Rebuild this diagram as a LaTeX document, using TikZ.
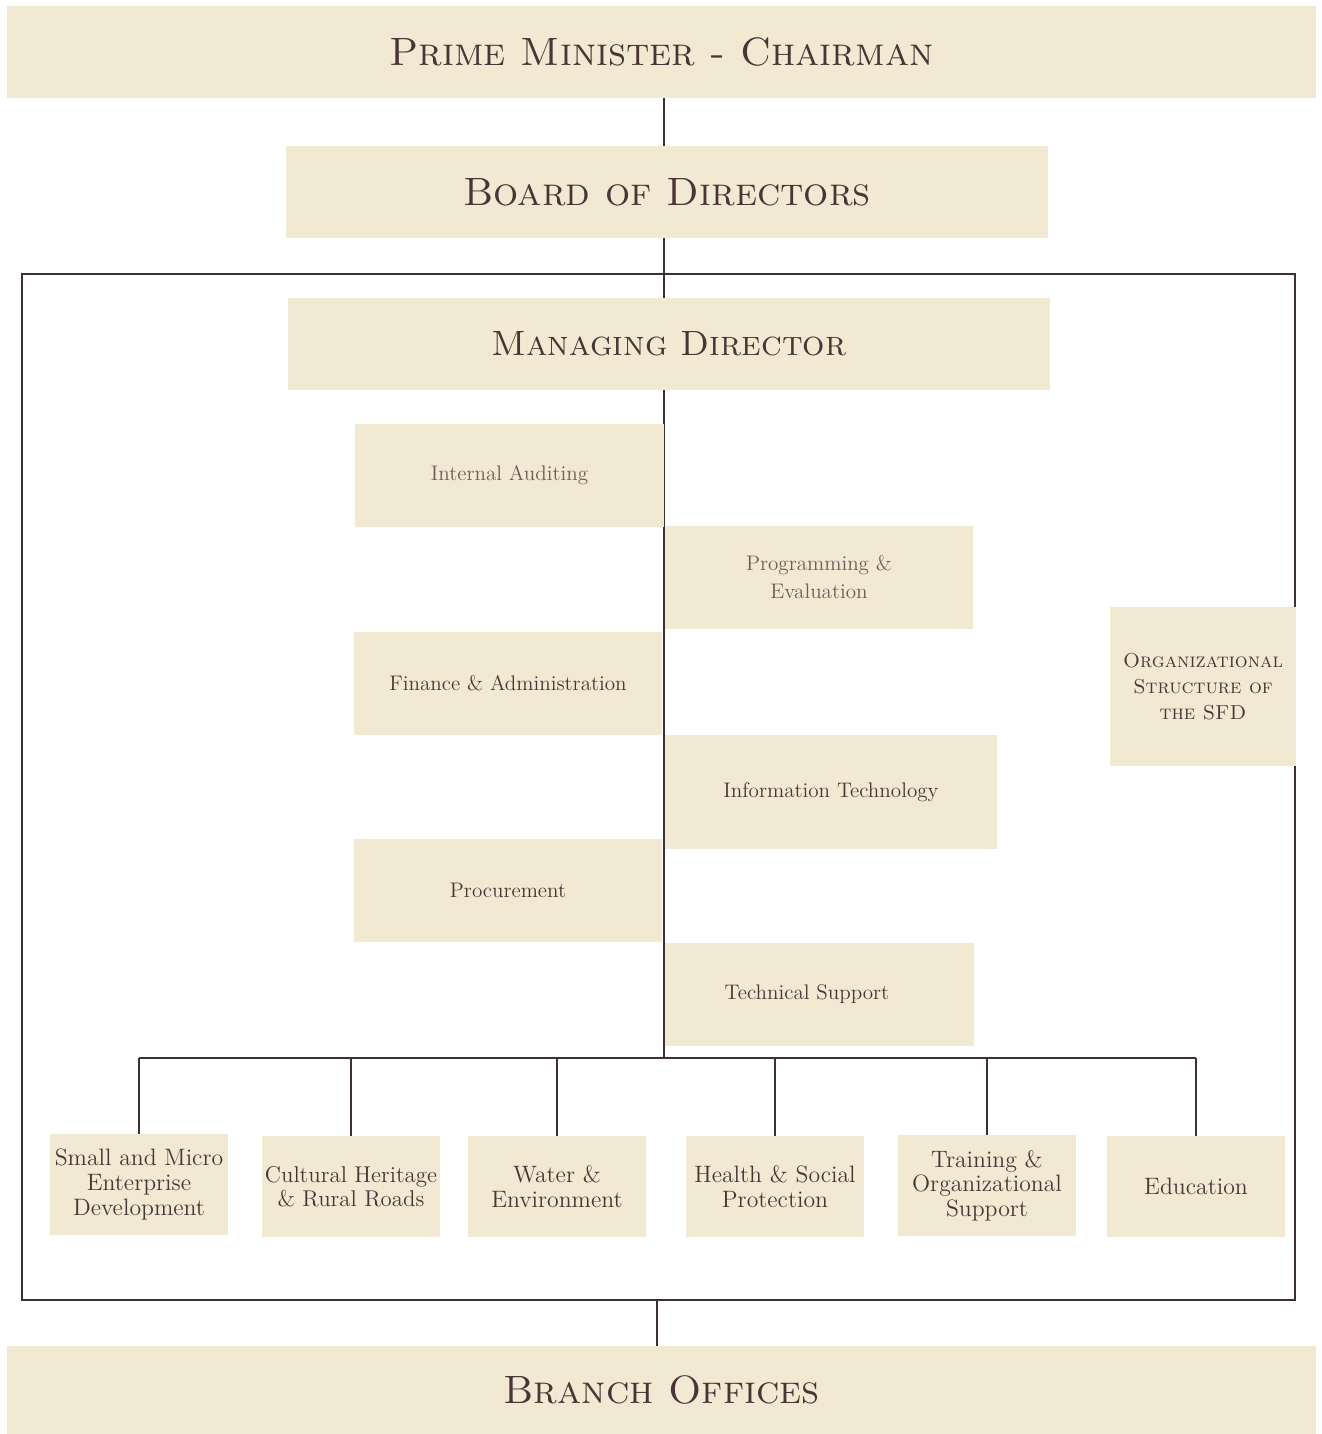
\documentclass[tikz,border=0pt]{standalone}
\usepackage{tikz}
\usetikzlibrary{backgrounds}

\definecolor{boxfill}{HTML}{F2E9D2}
\definecolor{ink}{HTML}{4A3436}
\definecolor{softink}{HTML}{735A5A}
\definecolor{wire}{HTML}{3E3133}

\tikzset{
  unit/.style={rectangle, fill=boxfill, text=ink, inner sep=2pt, align=center},
  headunit/.style={unit, minimum height=1.84cm, font=\fontsize{22.5}{26}\selectfont\scshape},
  deptunit/.style={unit, minimum width=6.17cm, minimum height=2.06cm, font=\fontsize{12}{16}\selectfont},
  divunit/.style={unit, minimum width=3.56cm, minimum height=2.02cm, inner sep=0pt, font=\fontsize{13.5}{14}\selectfont},
  wireline/.style={draw=wire, line width=1.1pt}
}

\begin{document}
\begin{tikzpicture}[x=0.02cm, y=-0.02cm]
    \useasboundingbox (0,0) rectangle (1322,1434);

    % top of the structure
    \node[headunit, minimum width=26.18cm] (pm) at (661.5,52) {Prime Minister - Chairman};
    \node[headunit, minimum width=15.24cm] (board) at (667,192) {Board of Directors};

    % frame round the fund
    \node[wireline, rectangle, minimum width=25.46cm, minimum height=20.52cm, inner sep=0pt] (frame) at (658.5,787) {};

    \node[headunit, minimum width=15.24cm, font=\fontsize{20}{24}\selectfont\scshape] (md) at (669,344) {Managing Director};

    % units beside the spine
    \coordinate (spine) at (664,1058);
    \node[deptunit, text=softink] (audit) at (509.5,475.5) {Internal Auditing};
    \node[deptunit, text=softink] (prog) at (819,577.5) {Programming \&\\Evaluation};
    \node[deptunit] (finance) at (508,683.5) {Finance \& Administration};
    \node[deptunit, minimum width=6.64cm, minimum height=2.28cm] (it) at (831,792) {Information Technology};
    \node[deptunit] (procure) at (508,890.5) {Procurement};
    \node[deptunit] (techsup) at (819.5,994.5) {\hspace{-0.5cm}Technical Support};

    \node[unit, minimum width=3.72cm, minimum height=3.18cm, font=\fontsize{11.5}{15}\selectfont\scshape] (title) at (1203,686.5) {Organizational\\Structure of\\the SFD};

    % divisions
    \node[divunit] (sme) at (139,1184.5) {Small and Micro\\Enterprise\\Development};
    \node[divunit, font=\fontsize{13}{14}\selectfont] (heritage) at (351,1186.5) {Cultural Heritage\\\& Rural Roads};
    \node[divunit] (water) at (557,1186.5) {Water \&\\Environment};
    \node[divunit] (health) at (775,1186.5) {Health \& Social\\Protection};
    \node[divunit] (training) at (987,1185.5) {Training \&\\Organizational\\Support};
    \node[divunit] (educ) at (1196,1186.5) {Education};

    \node[headunit, minimum width=26.18cm, minimum height=1.76cm] (branch) at (661.5,1390) {Branch Offices};

    % connectors
    \begin{scope}[on background layer]
        \draw[wireline] (spine |- pm.south) -- (spine);
    \end{scope}
    \draw[wireline] (sme.north |- spine) -- (educ.north |- spine);
    \foreach \d in {sme, heritage, water, health, training, educ}
        \draw[wireline] (\d.north |- spine) -- (\d.north);
    \draw[wireline] ([xshift=-0.03cm]frame.south) -- ([xshift=-0.03cm]frame.south |- branch.north);
\end{tikzpicture}
\end{document}
